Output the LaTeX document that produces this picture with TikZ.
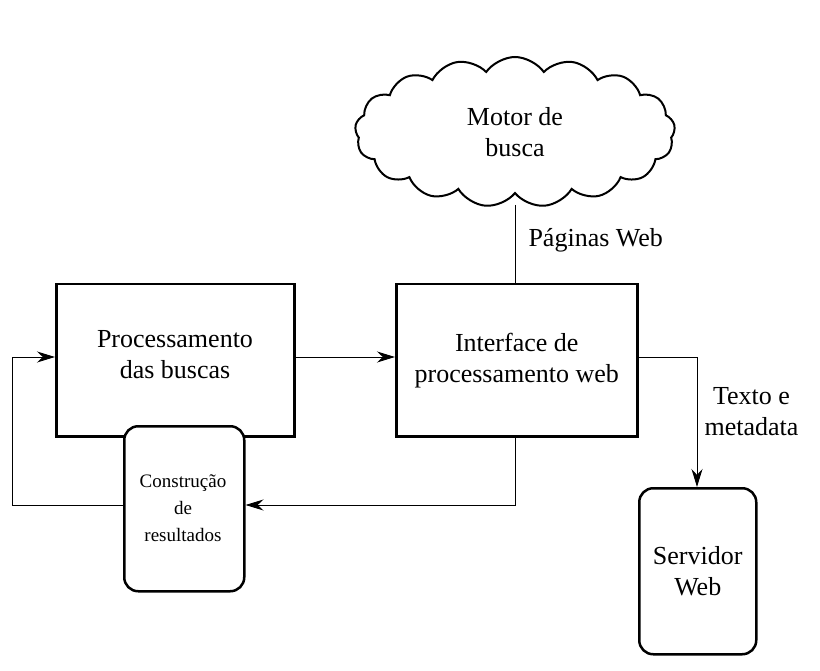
\documentclass[tikz,border=0pt]{standalone}
\usepackage{fontspec}
\setmainfont{Liberation Serif}
\usetikzlibrary{shapes.symbols,arrows.meta}
\begin{document}
\begin{tikzpicture}[x=1pt,y=-1pt,
  box/.style={draw,line width=2.5pt,fill=white},
  big/.style={font=\fontsize{26}{31}\selectfont,align=center},
  small/.style={font=\fontsize{19}{27}\selectfont,align=center},
  con/.style={line width=1pt},
  arr/.style={con,-{Stealth[length=18pt,width=11pt]}}]
\useasboundingbox (0,0) rectangle (820,671);
\node[draw,line width=2pt,cloud,cloud puffs=17,cloud puff arc=110,aspect=2.4,minimum width=320pt,minimum height=150pt,big] (cloud) at (515,132) {Motor de\\busca};
\node[box,minimum width=238pt,minimum height=152pt,anchor=north west] (proc) at (55,283) {};
\node[big] (proct) at (175,355) {Processamento\\das buscas};
\node[box,minimum width=241pt,minimum height=152pt,anchor=north west,big] (intf) at (395,283) {Interface de\\processamento web};
\node[box,rounded corners=14pt,minimum width=120pt,minimum height=165pt,anchor=north west] (cons) at (123,425) {};
\node[small] (const) at (183,508) {Construção\\de\\resultados};
\node[box,rounded corners=14pt,minimum width=117pt,minimum height=166pt,anchor=north west,big] (serv) at (638,487) {Servidor\\Web};
\coordinate (cb) at (515,205);
\draw[con] (cb) -- (intf.north -| cb);
\node[big,anchor=west] (pw) at (525,240) {Páginas Web};
\draw[arr] (proc.east |- 0,357) -- (intf.west |- 0,357);
\coordinate (a1) at (515,505);
\draw[arr] (intf.south -| a1) -- (a1) -- (cons.east |- a1);
\coordinate (b1) at (12,505);
\draw[arr] (cons.west |- b1) -- (b1) -- (12,357) -- (proc.west |- 0,357);
\coordinate (c1) at (697,357);
\draw[arr] (intf.east |- c1) -- (c1) -- (serv.north -| c1);
\node[big,anchor=west] (tm) at (701,412) {Texto e\\metadata};
\end{tikzpicture}
\end{document}
